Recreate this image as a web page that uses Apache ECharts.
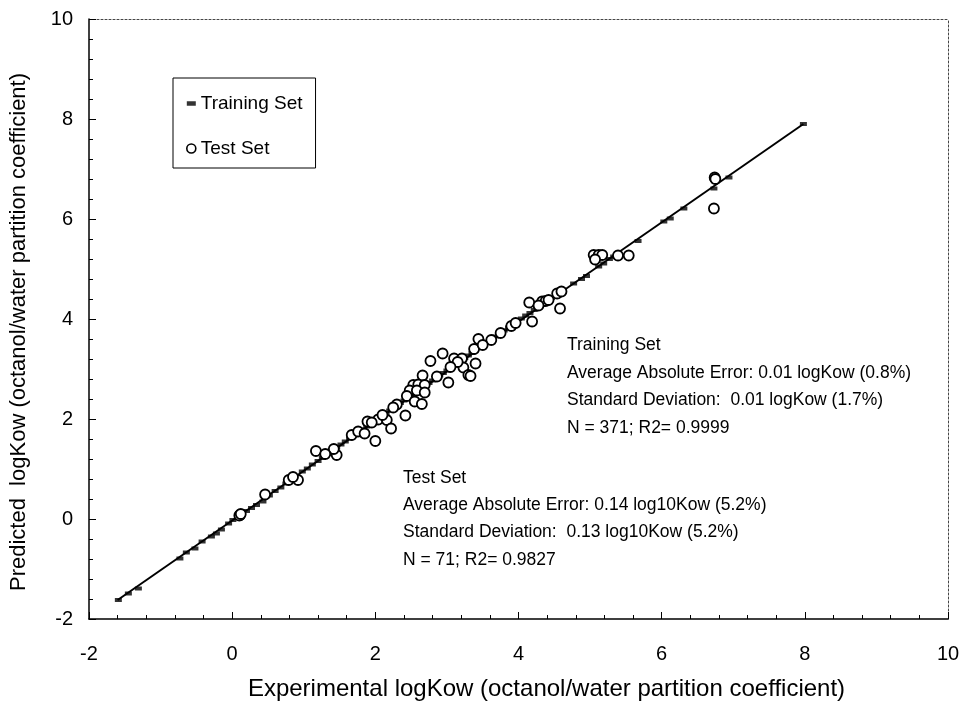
<!DOCTYPE html>
<html>
<head>
<meta charset="utf-8">
<script src="https://cdn.jsdelivr.net/npm/echarts@6/dist/echarts.min.js"></script>
<style>
html,body{margin:0;padding:0;background:#fff;}
#chart{width:963px;height:709px;}
</style>
</head>
<body>
<div id="chart"></div>
<script>
// ---- data ----
var xTicks = [-2, 0, 2, 4, 6, 8, 10];
var yTicks = [-2, 0, 2, 4, 6, 8, 10];

var fitLine = [[-1.6, -1.62], [7.98, 7.9]];

var trainingSet = [
  [-1.59,-1.62],[-1.45,-1.49],[-1.31,-1.39],[-0.73,-0.79],[-0.64,-0.67],[-0.52,-0.59],
  [-0.42,-0.45],[-0.29,-0.35],[-0.22,-0.29],[-0.15,-0.21],[-0.05,-0.09],[0.01,-0.02],
  [0.11,0.08],[0.2,0.16],[0.27,0.22],[0.34,0.28],[0.43,0.35],[0.52,0.47],[0.6,0.56],
  [0.68,0.63],[0.75,0.71],[0.83,0.79],[0.9,0.86],[0.98,0.95],[1.05,1.01],[1.12,1.09],
  [1.2,1.16],[1.26,1.22],[1.33,1.3],[1.4,1.36],[1.46,1.43],[1.52,1.49],[1.58,1.55],
  [1.64,1.61],[1.7,1.67],[1.76,1.72],[1.82,1.79],[1.88,1.85],[1.94,1.91],[2.0,1.97],
  [2.05,2.02],[2.1,2.07],[2.15,2.12],[2.2,2.17],[2.25,2.22],[2.3,2.27],[2.35,2.32],
  [2.4,2.37],[2.45,2.42],[2.5,2.47],[2.55,2.52],[2.6,2.57],[2.65,2.62],[2.7,2.67],
  [2.75,2.72],[2.8,2.77],[2.85,2.82],[2.9,2.87],[2.95,2.92],[3.0,2.97],[3.05,3.02],
  [3.1,3.07],[3.15,3.12],[3.2,3.17],[3.25,3.22],[3.3,3.27],[3.35,3.32],[3.4,3.37],
  [3.45,3.42],[3.5,3.47],[3.56,3.53],[3.62,3.59],[3.68,3.65],[3.74,3.71],[3.8,3.77],
  [3.86,3.83],[3.92,3.89],[3.98,3.95],[4.04,4.01],[4.1,4.07],[4.16,4.12],[4.22,4.18],
  [4.28,4.24],[4.34,4.3],[4.4,4.36],[4.46,4.42],[4.52,4.47],[4.63,4.55],[4.77,4.71],
  [4.88,4.8],[4.95,4.86],[5.12,5.05],[5.19,5.11],[5.27,5.2],[5.33,5.25],[5.67,5.56],
  [6.03,5.95],[6.12,6.01],[6.31,6.21],[6.73,6.61],[6.94,6.83],[7.98,7.9]
];

var testSet = [
  [4.15,4.33],[4.58,4.21],[4.33,4.35],[4.54,4.51],[4.19,3.95],[3.44,3.6],[3.38,3.4],
  [2.94,3.31],[2.77,3.16],[3.10,3.21],[3.21,3.21],[3.23,3.03],[3.40,3.11],[3.30,2.88],
  [3.33,2.86],[3.02,2.73],[2.66,2.87],[2.53,2.68],[2.60,2.69],[2.69,2.68],[2.48,2.57],
  [2.58,2.57],[2.69,2.53],[2.44,2.46],[2.55,2.35],[2.65,2.30],[2.42,2.07],[1.89,1.95],
  [2.04,1.99],[2.16,1.98],[2.22,1.81],[2.0,1.56],[1.67,1.68],[1.76,1.75],[1.85,1.71],
  [1.17,1.36],[1.46,1.28],[0.79,0.78],[0.92,0.78],[0.46,0.49],[0.11,0.08],[6.74,6.83],
  [6.75,6.80],[6.73,6.21],[5.05,5.28],[5.12,5.28],[5.17,5.28],[5.07,5.19],[5.39,5.27],
  [5.54,5.27],[4.38,4.36],[4.42,4.38],[3.62,3.58],[3.75,3.72],[3.9,3.86],[3.5,3.48],
  [4.28,4.27],[2.1,2.08],[2.3,2.29],[1.42,1.4],[1.3,1.3],[0.85,0.84],[3.15,3.14],
  [3.05,3.04],[2.86,2.85],[4.6,4.55],[1.95,1.93],[0.1,0.07],[0.12,0.1],[2.25,2.23],[3.96,3.92]
];

var trainingStats = [
  'Training Set',
  'Average Absolute Error: 0.01 logKow (0.8%)',
  'Standard Deviation:  0.01 logKow (1.7%)',
  'N = 371; R2= 0.9999'
];
var testStats = [
  'Test Set',
  'Average Absolute Error: 0.14 log10Kow (5.2%)',
  'Standard Deviation:  0.13 log10Kow (5.2%)',
  'N = 71; R2= 0.9827'
];

// ---- chart ----
var FONT = '"Liberation Sans", Arial, Helvetica, sans-serif';
var chart = echarts.init(document.getElementById('chart'), null, {renderer: 'canvas'});

function statBlock(lines, left, top, gap) {
  return lines.map(function (t, i) {
    return {
      type: 'text', left: left, top: top + i * gap,
      style: {text: t, font: '17.5px ' + FONT, fill: '#000'}
    };
  });
}

var frameAxis = {
  type: 'value', min: -2, max: 10,
  axisLine: {show: true, onZero: false, lineStyle: {color: '#444', type: [2, 2], width: 1}},
  axisTick: {show: false}, axisLabel: {show: false}, splitLine: {show: false}
};

var option = {
  backgroundColor: '#fff',
  animation: false,
  textStyle: {fontFamily: FONT, color: '#000'},
  grid: {left: 88, right: 15, top: 19, bottom: 90},
  legend: {
    orient: 'vertical', left: 173, top: 78,
    padding: [16, 13, 10, 13], itemGap: 26,
    itemWidth: 9, itemHeight: 9,
    borderColor: '#000', borderWidth: 1,
    textStyle: {fontFamily: FONT, fontSize: 19, color: '#000'},
    data: [
      {name: 'Training Set', icon: 'path://M0,0 L6,0 L6,3 L0,3 Z', itemStyle: {color: '#000'}},
      {name: 'Test Set', icon: 'circle', itemStyle: {color: '#fff', borderColor: '#000', borderWidth: 1.6}}
    ]
  },
  xAxis: [{
    type: 'value', min: xTicks[0], max: xTicks[xTicks.length - 1], interval: 2,
    name: 'Experimental logKow (octanol/water partition coefficient)',
    nameLocation: 'middle', nameGap: 58,
    nameTextStyle: {fontSize: 24, color: '#000', fontFamily: FONT, padding: [0, 0, 0, 56]},
    axisLine: {onZero: false, lineStyle: {color: '#000', width: 1.5}},
    axisTick: {inside: true, length: 7, lineStyle: {color: '#000'}},
    minorTick: {show: true, splitNumber: 5, length: 4, lineStyle: {color: '#000'}},
    axisLabel: {fontSize: 20, color: '#000', margin: 25, fontFamily: FONT},
    splitLine: {show: false}
  }, Object.assign({position: 'top'}, frameAxis)],
  yAxis: [{
    type: 'value', min: yTicks[0], max: yTicks[yTicks.length - 1], interval: 2,
    name: 'Predicted  logKow (octanol/water partition coefficient)',
    nameLocation: 'middle', nameGap: 59,
    nameTextStyle: {fontSize: 22, color: '#000', fontFamily: FONT, padding: [0, 26, 0, 0]},
    axisLine: {show: true, onZero: false, lineStyle: {color: '#000', width: 1.5}},
    axisTick: {inside: true, length: 7, lineStyle: {color: '#000'}},
    minorTick: {show: true, splitNumber: 5, length: 4, lineStyle: {color: '#000'}},
    axisLabel: {fontSize: 20, color: '#000', margin: 16, fontFamily: FONT},
    splitLine: {show: false}
  }, Object.assign({position: 'right'}, frameAxis)],
  series: [{
    name: 'fit', type: 'line', data: fitLine, symbol: 'none',
    lineStyle: {color: '#000', width: 2}, z: 2, silent: true
  }, {
    name: 'Training Set', type: 'scatter', data: trainingSet,
    symbol: 'rect', symbolSize: [7, 4],
    itemStyle: {color: '#000'}, z: 3
  }, {
    name: 'Test Set', type: 'scatter', data: testSet,
    symbol: 'circle', symbolSize: 10,
    itemStyle: {color: '#fff', borderColor: '#000', borderWidth: 1.8, opacity: 1}, z: 4
  }],
  graphic: statBlock(trainingStats, 567, 336, 27.7).concat(statBlock(testStats, 403, 469, 27.3))
};
chart.setOption(option);
</script>
</body>
</html>
